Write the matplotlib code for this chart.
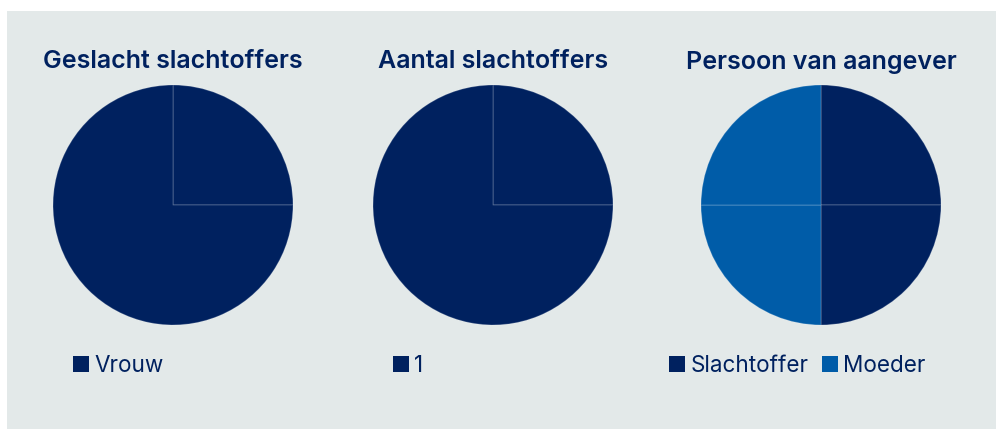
import matplotlib.pyplot as plt
from matplotlib.patches import Rectangle

# data
titles = ['Geslacht slachtoffers', 'Aantal slachtoffers', 'Persoon van aangever']
pie1_labels = ['Vrouw', 'Vrouw']
pie1_values = [1, 3]
pie2_labels = ['1', '1']
pie2_values = [1, 3]
pie3_labels = ['Slachtoffer', 'Slachtoffer', 'Moeder', 'Moeder']
pie3_values = [1, 1, 1, 1]

navy = '#00215f'
blue = '#005ca8'
bg = '#e3e9e9'
color_map = {'Vrouw': navy, '1': navy, 'Slachtoffer': navy, 'Moeder': blue}

plt.rcParams['font.family'] = ['Inter', 'DejaVu Sans']

W, H = 996, 429
fig = plt.figure(figsize=(W / 100, H / 100), dpi=100)
fig.patch.set_facecolor('white')
fig.patches.append(Rectangle((7 / W, 0), 1 - 7 / W, 1 - 11 / H, transform=fig.transFigure,
                             facecolor=bg, edgecolor='none', zorder=-10))

pies = [(pie1_labels, pie1_values), (pie2_labels, pie2_values), (pie3_labels, pie3_values)]
centers = [173, 493, 821]
legend_x = [73, 393, 669]
r = 120
cy = 205

for i, (labels, values) in enumerate(pies):
    cx = centers[i]
    ax = fig.add_axes([(cx - r) / W, (H - cy - r) / H, 2 * r / W, 2 * r / H])
    ax.set_facecolor('none')
    wedges, _ = ax.pie(values, colors=[color_map[l] for l in labels], startangle=90,
                       counterclock=False, radius=1,
                       wedgeprops=dict(edgecolor=(1, 1, 1, 0.2), linewidth=0.8))
    ax.set_xlim(-1.0, 1.0)
    ax.set_ylim(-1.0, 1.0)
    ax.axis('off')

    fig.text(cx / W, 1 - 62 / H, titles[i], ha='center', va='center',
             fontsize=18, fontweight='semibold', color=navy)

    # legend: one entry per unique label
    handles, names = [], []
    for w, l in zip(wedges, labels):
        if l not in names:
            handles.append(Rectangle((0, 0), 1, 1, facecolor=color_map[l], edgecolor='none'))
            names.append(l)
    fig.legend(handles, names, loc='center left', bbox_to_anchor=(legend_x[i] / W, 1 - 366 / H),
               ncol=len(names), frameon=False, fontsize=16.2, labelcolor=navy,
               handlelength=0.72, handleheight=0.72, handletextpad=0.22,
               columnspacing=0.6, borderpad=0, borderaxespad=0)

fig.savefig('out.png', dpi=100)
